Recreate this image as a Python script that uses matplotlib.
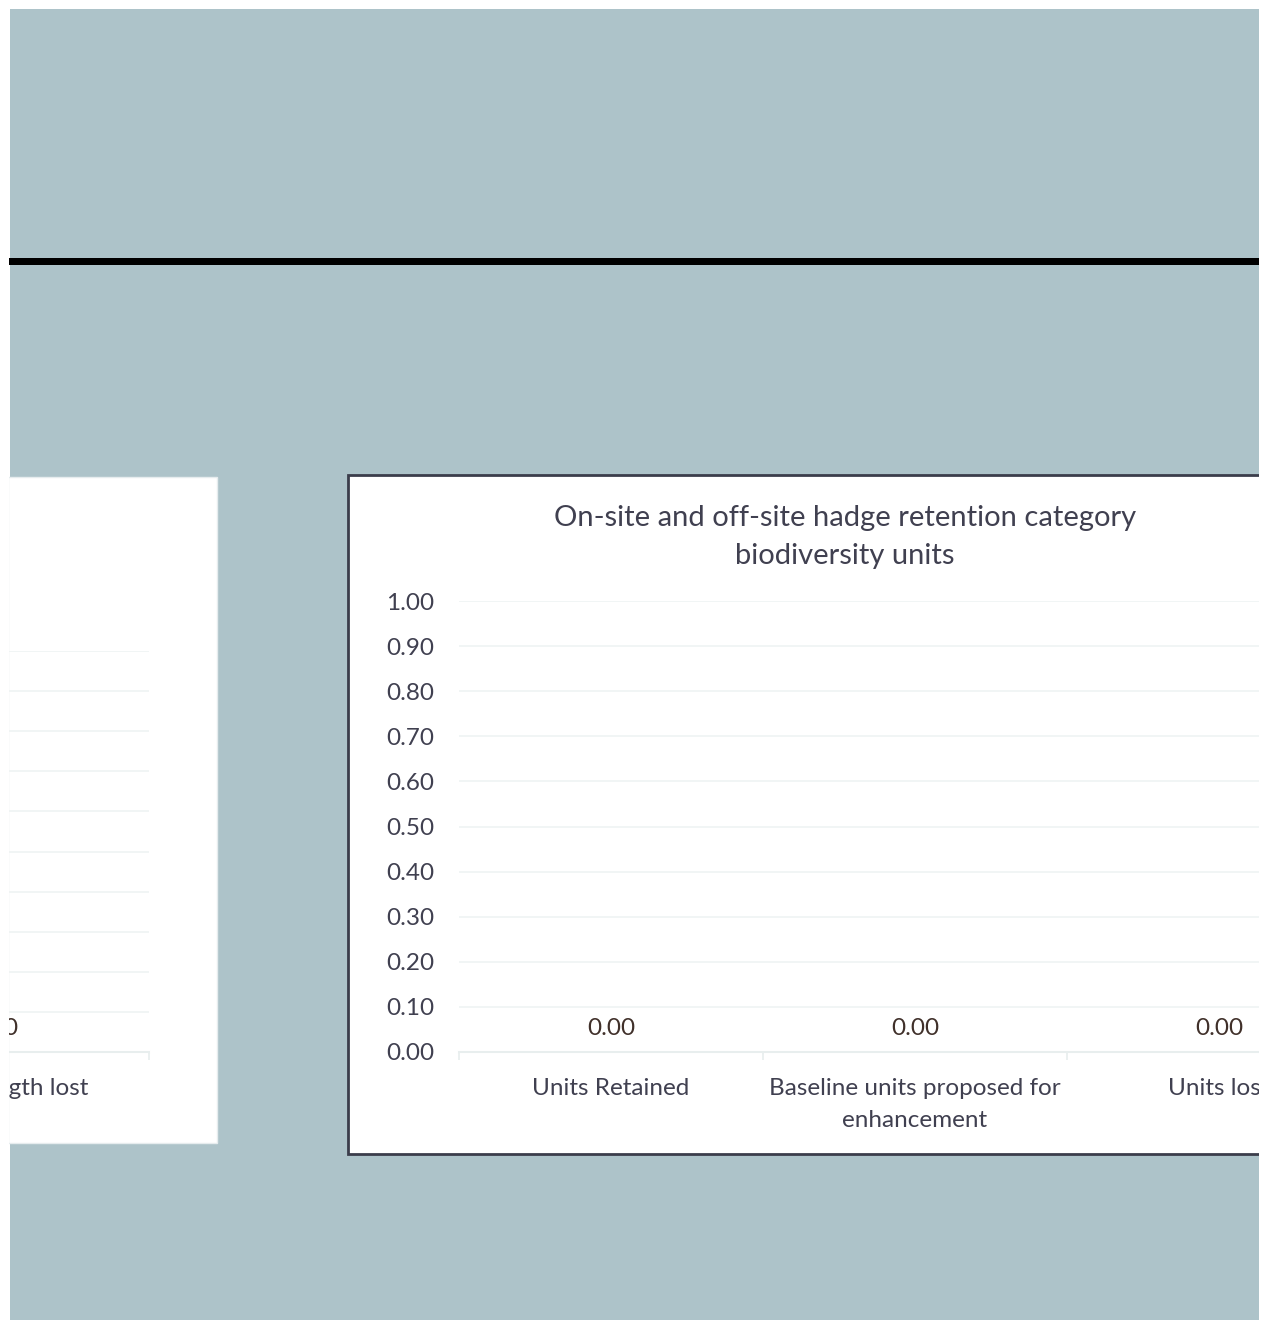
import matplotlib
matplotlib.use('Agg')
import matplotlib.pyplot as plt
from matplotlib.patches import Rectangle

# Chart data
title = 'On-site and off-site hadge retention category\nbiodiversity units'
categories = ['Units Retained', 'Baseline units proposed for\nenhancement', 'Units lost']
values = [0.00, 0.00, 0.00]
y_ticks = [0.0, 0.1, 0.2, 0.3, 0.4, 0.5, 0.6, 0.7, 0.8, 0.9, 1.0]

# Partly hidden chart on the left
left_categories = ['Hedge length retained', 'Hedge length enhanced', 'Hedge length lost']
left_values = [0.00, 0.00, 0.00]

W, H = 1264, 1320
BG = '#adc3c9'
TICK_COL = '#404050'
LABEL_COL = '#40302a'
GRID_COL = '#eff3f3'
FS = 17.5

plt.rcParams['font.family'] = ['Lato', 'DejaVu Sans']

fig = plt.figure(figsize=(W / 100, H / 100), dpi=100)
fig.patch.set_facecolor('white')


def px(x, y, w, h):
    # pixel box (top-left origin) -> figure fraction
    return [x / W, 1 - (y + h) / H, w / W, h / H]


def rect(x, y, w, h, z=0, **kw):
    b = px(x, y, w, h)
    r = Rectangle((b[0], b[1]), b[2], b[3], transform=fig.transFigure, zorder=z, **kw)
    fig.add_artist(r)
    return r


# background and panels
rect(10, 9, 1249, 1311, z=-5, facecolor=BG, edgecolor='none')
rect(9, 258, 1250, 7, z=-4, facecolor='black', edgecolor='none')
rect(8, 477, 209, 666, z=-3, facecolor='white', edgecolor='#e6ecee', linewidth=1)
rect(348, 475, 950, 679, z=-3, facecolor='white', edgecolor='#3b3d4b', linewidth=2)


def setup_axes(ax, cats, vals):
    ax.set_facecolor('none')
    ax.set_xlim(-0.5, len(cats) - 0.5)
    ax.set_ylim(0, 1)
    ax.set_yticks(y_ticks)
    ax.set_yticklabels([f'{t:.2f}' for t in y_ticks])
    ax.grid(axis='y', color=GRID_COL, linewidth=1.2)
    ax.set_axisbelow(True)
    for s in ['top', 'right', 'left']:
        ax.spines[s].set_visible(False)
    ax.spines['bottom'].set_color('#e8eeee')
    ax.spines['bottom'].set_linewidth(1.5)
    ax.set_xticks(range(len(cats)))
    ax.set_xticklabels(cats, fontsize=FS, color=TICK_COL, linespacing=1.6)
    ax.set_xticks([i - 0.5 for i in range(len(cats) + 1)], minor=True)
    ax.tick_params(axis='x', which='major', length=0, pad=19)
    ax.tick_params(axis='x', which='minor', length=6, color='#e8eeee', width=1.2)
    ax.tick_params(axis='y', length=0, pad=18, labelsize=FS, labelcolor=TICK_COL)
    ax.bar(range(len(cats)), vals, width=0.6, color='#5b7f8a')
    for i, v in enumerate(vals):
        ax.annotate(f'{v:.2f}', (i, v), xytext=(0, 9.5), textcoords='offset points',
                    ha='center', va='bottom', fontsize=FS, color=LABEL_COL)


# left chart (mostly off-canvas)
axl = fig.add_axes(px(-781, 651, 930, 401))
setup_axes(axl, left_categories, left_values)

# main chart
ax = fig.add_axes(px(459, 601, 912, 451))
setup_axes(ax, categories, values)
fig.text(845 / W, 1 - 537 / H, title, ha='center', va='center', fontsize=21,
         color=TICK_COL, linespacing=1.55)

# white strips at the edges, covering the overflow
rect(1259, 0, 5, H, z=10, facecolor='white', edgecolor='none')
rect(0, 0, W, 8, z=10, facecolor='white', edgecolor='none')
rect(0, 0, 9, H, z=10, facecolor='white', edgecolor='none')

fig.savefig('out.png', dpi=100)
